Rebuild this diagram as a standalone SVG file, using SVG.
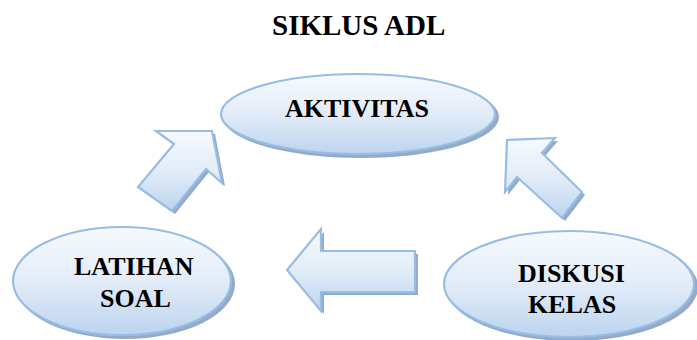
<svg xmlns="http://www.w3.org/2000/svg" width="697" height="340" viewBox="0 0 697 340">
<defs>
<linearGradient id="g" x1="0" y1="0" x2="0" y2="1">
<stop offset="0" stop-color="#f7fafe"/>
<stop offset="0.5" stop-color="#e2ecf8"/>
<stop offset="1" stop-color="#bcd4ef"/>
</linearGradient>
<style>
.sh{fill:#93abc9;}
.sf{fill:url(#g);stroke:#98bde4;stroke-width:2.2;}
</style>
</defs>
<rect width="697" height="340" fill="#fff"/>
<text x="272" y="35" font-family="Liberation Serif" font-weight="bold" font-size="29">SIKLUS ADL</text>
<g id="connectors">
<g id="arrow-left-up">
<polygon class="sh" points="159,134 215,134 225,186 209,172 175,214 141,190 177,147"/>
<polygon class="sf" points="156,131 212,131 222,183 206,169 172,211 138,187 174,144"/>
</g>
<g id="arrow-right-up">
<polygon class="sh" points="558,141 510,143 508,195 520,180 565,221 585,195 545,156"/>
<polygon class="sf" points="555,138 507,140 505,192 517,177 562,218 582,192 542,153"/>
</g>
<g id="arrow-left">
<polygon class="sh" points="290,273 324,232 324,254 418,254 418,295 324,295 324,314"/>
<polygon class="sf" points="287,270 321,229 321,251 415,251 415,292 321,292 321,311"/>
</g>
</g>
<g id="aktivitas">
<ellipse class="sh" cx="361" cy="117" rx="138" ry="41"/>
<ellipse class="sf" cx="358" cy="114" rx="137" ry="40"/>
<text x="285" y="117" font-family="Liberation Serif" font-weight="bold" font-size="26">AKTIVITAS</text>
</g>
<g id="latihan-soal">
<ellipse class="sh" cx="125" cy="284" rx="110" ry="55"/>
<ellipse class="sf" cx="122" cy="281" rx="109" ry="54"/>
<text x="74" y="275" font-family="Liberation Serif" font-weight="bold" font-size="26">LATIHAN</text>
<text x="100" y="307" font-family="Liberation Serif" font-weight="bold" font-size="26">SOAL</text>
</g>
<g id="diskusi-kelas">
<ellipse class="sh" cx="572" cy="287" rx="126" ry="54"/>
<ellipse class="sf" cx="569" cy="284" rx="125" ry="53"/>
<text x="518" y="282" font-family="Liberation Serif" font-weight="bold" font-size="26">DISKUSI</text>
<text x="528" y="313" font-family="Liberation Serif" font-weight="bold" font-size="26">KELAS</text>
</g>
</svg>
